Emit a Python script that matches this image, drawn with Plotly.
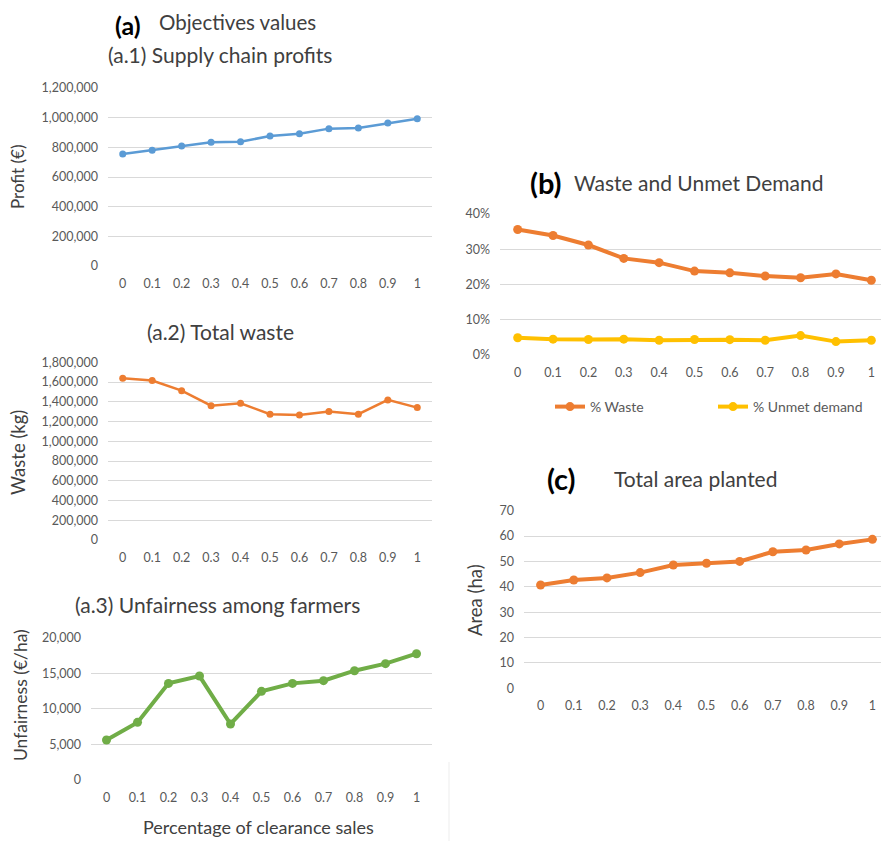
import plotly.graph_objects as go

# page body has an 8px margin: the figure is drawn 8px in from the top-left corner
OFF = 8
W, H = 889 - OFF, 841 - OFF

x_labels = ["0", "0.1", "0.2", "0.3", "0.4", "0.5", "0.6", "0.7", "0.8", "0.9", "1"]

profit = [755000, 780000, 809000, 834000, 838000, 876000, 892000, 926000, 930000, 964000, 993000]
waste_kg = [1638000, 1615000, 1513000, 1361000, 1385000, 1274000, 1267000, 1301000, 1274000, 1419000, 1341000]
unfairness = [5620, 8100, 13580, 14610, 7870, 12460, 13580, 13960, 15360, 16350, 17750]
pct_waste = [0.356, 0.339, 0.312, 0.274, 0.262, 0.238, 0.233, 0.224, 0.219, 0.230, 0.212]
pct_unmet = [0.049, 0.045, 0.044, 0.045, 0.042, 0.044, 0.0435, 0.042, 0.055, 0.038, 0.042]
area = [40.7, 42.7, 43.5, 45.6, 48.6, 49.3, 50.0, 53.8, 54.5, 56.9, 58.7]

BLUE = "#5B9BD5"
ORANGE = "#ED7D31"
YELLOW = "#FFC000"
GREEN = "#70AD47"
GRID = "#D9D9D9"
TICK = "#595959"
TITLE = "#404040"
FONT = "Lato"

def px(x):
    return (x - OFF) / W

def py(y):
    return 1 - (y - OFF) / H

fig = go.Figure()

def add_line(y, axis_n, color, lw, ms, name=None, show=False):
    fig.add_trace(go.Scatter(
        x=x_labels, y=y, mode="lines+markers", name=name, showlegend=show,
        line=dict(color=color, width=lw), marker=dict(color=color, size=ms),
        xaxis="x" + ("" if axis_n == 1 else str(axis_n)),
        yaxis="y" + ("" if axis_n == 1 else str(axis_n)),
        hoverinfo="x+y",
    ))

add_line(profit, 1, BLUE, 2.5, 7)
add_line(waste_kg, 2, ORANGE, 2.5, 7)
add_line(unfairness, 3, GREEN, 4, 9)
add_line(pct_waste, 4, ORANGE, 4, 9, name="% Waste", show=True)
add_line(pct_unmet, 4, YELLOW, 4, 9, name="% Unmet demand", show=True)
add_line(area, 5, ORANGE, 4, 9)

def xaxis(dom, anchor):
    return dict(domain=dom, anchor=anchor, type="category", range=[-0.5, 10.5],
                showgrid=False, zeroline=False, showline=False, ticks="", automargin=False,
                tickfont=dict(family=FONT, size=12.5, color=TICK), ticklabelstandoff=8,
                fixedrange=True)

def yaxis(dom, anchor, rng, dtick, fmt):
    return dict(domain=dom, anchor=anchor, range=rng, dtick=dtick, tick0=0,
                tickformat=fmt, showgrid=True, gridcolor=GRID, gridwidth=1,
                zeroline=False, showline=False, ticks="", automargin=False,
                tickfont=dict(family=FONT, size=12.5, color=TICK), ticklabelstandoff=9,
                fixedrange=True)

fig.update_layout(
    width=W, height=H, margin=dict(l=0, r=0, t=0, b=0, autoexpand=False),
    paper_bgcolor="white", plot_bgcolor="white",
    font=dict(family=FONT, color=TITLE),
    xaxis=xaxis([px(108), px(432)], "y"),
    yaxis=yaxis([py(266), py(88)], "x", [0, 1200000], 200000, ",d"),
    xaxis2=xaxis([px(108), px(432)], "y2"),
    yaxis2=yaxis([py(540), py(362.3)], "x2", [0, 1800000], 200000, ",d"),
    xaxis3=xaxis([px(91), px(432)], "y3"),
    yaxis3=yaxis([py(780), py(637.7)], "x3", [0, 20000], 5000, ",d"),
    xaxis4=xaxis([px(500), 1.0], "y4"),
    yaxis4=yaxis([py(355), py(214)], "x4", [0, 0.4], 0.1, ".0%"),
    xaxis5=xaxis([px(524), 1.0], "y5"),
    yaxis5=yaxis([py(688.3), py(510.7)], "x5", [0, 70], 10, "d"),
    legend=dict(orientation="h", x=px(550), y=py(407), xanchor="left", yanchor="middle",
                font=dict(family=FONT, size=14, color=TICK), itemwidth=30,
                entrywidth=118, entrywidthmode="pixels", bgcolor="rgba(0,0,0,0)"),
    hovermode="closest",
)

def text(x, y, s, size, rot=0, bold=False, anchor="center", yanchor="middle"):
    fig.add_annotation(x=px(x), y=py(y), xref="paper", yref="paper", text=("<b>%s</b>" % s) if bold else s,
                       showarrow=False, textangle=rot, xanchor=anchor, yanchor=yanchor,
                       font=dict(family=FONT, size=size, color="#000000" if bold else TITLE))

# Panel titles
text(113, OFF, "(a)", 25, bold=True, anchor="left", yanchor="top")
text(157, OFF, "Objectives values", 20.5, anchor="left", yanchor="top")
text(220, 55, "(a.1) Supply chain profits", 21)
text(220, 331, "(a.2) Total waste", 21)
text(217, 604, "(a.3) Unfairness among farmers", 21)
text(528, 182, "(b)", 29, bold=True, anchor="left")
text(572, 182, "Waste and Unmet Demand", 21, anchor="left")
text(545, 478, "(c)", 29, bold=True, anchor="left")
text(612, 478, "Total area planted", 21, anchor="left")

# Axis titles
text(18, 177, "Profit (€)", 17, rot=-90)
text(18, 453, "Waste (kg)", 18.5, rot=-90)
text(20, 695, "Unfairness (€/ha)", 17.5, rot=-90)
text(475, 600, "Area (ha)", 18.5, rot=-90)
text(258, 827, "Percentage of clearance sales", 18)

# faint separator at the bottom edge
fig.add_shape(type="line", xref="paper", yref="paper", x0=px(449), x1=px(449), y0=py(762), y1=0,
              line=dict(color="#EDEDED", width=1))

fig.write_html("out.html")
